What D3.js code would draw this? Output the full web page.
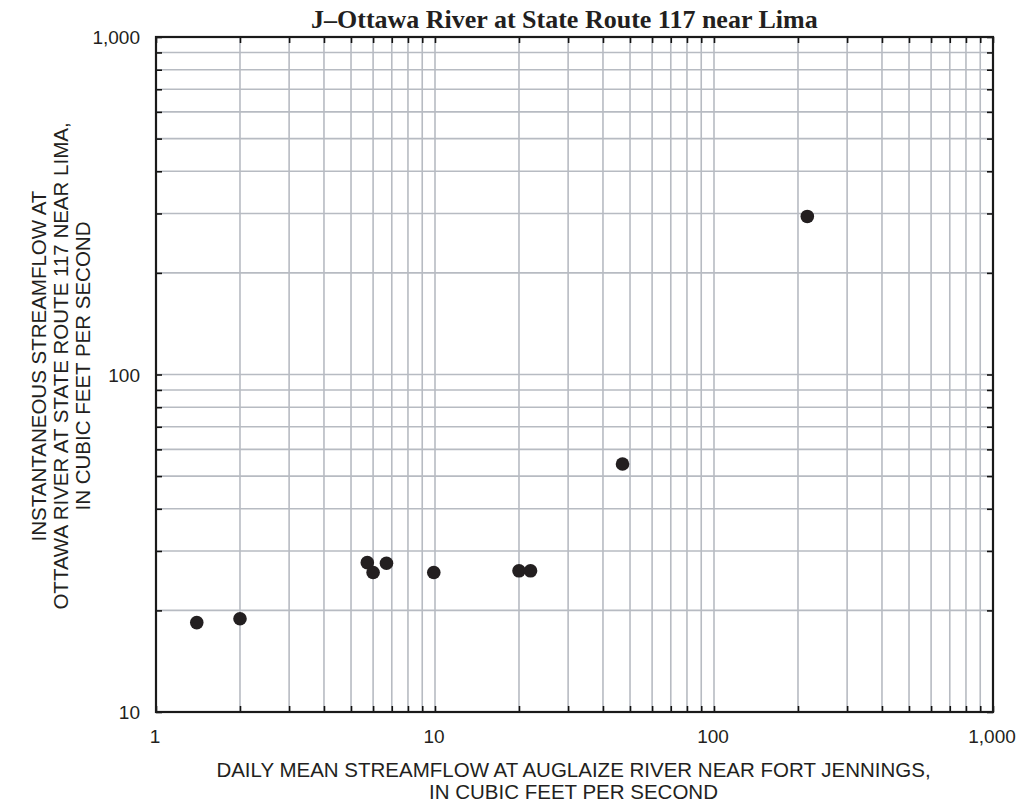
<!DOCTYPE html>
<html>
<head>
<meta charset="utf-8">
<script src="https://cdn.jsdelivr.net/npm/d3@7"></script>
<style>
  html, body { margin: 0; padding: 0; background: #fff; }
  svg { display: block; }
</style>
</head>
<body>
<svg id="chart" width="1020" height="808"></svg>
<script>
// Paired streamflow observations (cubic feet per second)
const augFortJennings = [1.4, 2.0, 5.72, 6.0, 6.7, 9.9, 20.0, 22.0, 47.0, 216];
const ottawaLima      = [18.4, 18.9, 27.7, 25.9, 27.6, 25.9, 26.2, 26.2, 54.3, 294];

const xLabelTicks = [1, 10, 100, 1000];
const yLabelTicks = [10, 100, 1000];

const titleText = "J\u2013Ottawa River at State Route 117 near Lima";
const xTitleLines = ["DAILY MEAN STREAMFLOW AT AUGLAIZE RIVER NEAR FORT JENNINGS,",
                     "IN CUBIC FEET PER SECOND"];
const yTitleLines = ["INSTANTANEOUS STREAMFLOW AT",
                     "OTTAWA RIVER AT STATE ROUTE 117 NEAR LIMA,",
                     "IN CUBIC FEET PER SECOND"];

const svg = d3.select("#chart");
const plotL = 156, plotR = 993, plotT = 37, plotB = 712;

const x = d3.scaleLog().domain([1, 1000]).range([plotL, plotR]);
const y = d3.scaleLog().domain([10, 1000]).range([plotB, plotT]);

// all 1-2-...-9 positions within each decade
function logTicks(lo, hi) {
  const out = [];
  for (let d = lo; d < hi; d *= 10)
    for (let k = 1; k < 10; k++) out.push(d * k);
  out.push(hi);
  return out;
}
const xAll = logTicks(1, 1000);
const yAll = logTicks(10, 1000);

const sans = "'Liberation Sans', Arial, Helvetica, sans-serif";
const gridColor = "#b7bbc2";
const ink = "#231f20";

// grid lines
const grid = svg.append("g");
grid.selectAll("line.vx").data(xAll.filter(v => v > 1 && v < 1000)).join("line")
  .attr("x1", d => x(d)).attr("x2", d => x(d))
  .attr("y1", plotT).attr("y2", plotB)
  .attr("stroke", gridColor).attr("stroke-width", 1.6);
grid.selectAll("line.hy").data(yAll.filter(v => v > 10 && v < 1000)).join("line")
  .attr("x1", plotL).attr("x2", plotR)
  .attr("y1", d => y(d)).attr("y2", d => y(d))
  .attr("stroke", gridColor).attr("stroke-width", 1.6);

// inward tick marks on all four sides
const tickLen = 6;
const axBottom = d3.axisTop(x).tickValues(xAll).tickSize(tickLen).tickFormat("");
const axTop = d3.axisBottom(x).tickValues(xAll).tickSize(tickLen).tickFormat("");
const axLeft = d3.axisRight(y).tickValues(yAll).tickSize(tickLen).tickFormat("");
const axRight = d3.axisLeft(y).tickValues(yAll).tickSize(tickLen).tickFormat("");

function styleAxis(g) {
  g.select(".domain").remove();
  g.selectAll(".tick line").attr("stroke", "#111").attr("stroke-width", 1.6);
}
svg.append("g").attr("transform", `translate(0,${plotB})`).call(axBottom).call(styleAxis);
svg.append("g").attr("transform", `translate(0,${plotT})`).call(axTop).call(styleAxis);
svg.append("g").attr("transform", `translate(${plotL},0)`).call(axLeft).call(styleAxis);
svg.append("g").attr("transform", `translate(${plotR},0)`).call(axRight).call(styleAxis);

// frame
svg.append("rect")
  .attr("x", plotL).attr("y", plotT)
  .attr("width", plotR - plotL).attr("height", plotB - plotT)
  .attr("fill", "none").attr("stroke", "#1a1a1a").attr("stroke-width", 2.2);

// tick labels
const fmt = d3.format(",");
svg.append("g").selectAll("text").data(xLabelTicks).join("text")
  .attr("x", d => x(d) - 1).attr("y", plotB + 31)
  .attr("text-anchor", "middle")
  .attr("font-family", sans).attr("font-size", 19).attr("fill", ink)
  .text(d => fmt(d));
svg.append("g").selectAll("text").data(yLabelTicks).join("text")
  .attr("x", plotL - 16).attr("y", d => y(d) + 7)
  .attr("text-anchor", "end")
  .attr("font-family", sans).attr("font-size", 19).attr("fill", ink)
  .text(d => fmt(d));

// points
svg.append("g").selectAll("circle").data(augFortJennings).join("circle")
  .attr("cx", d => x(d))
  .attr("cy", (d, i) => y(ottawaLima[i]))
  .attr("r", 6.8)
  .attr("fill", ink);

// title
svg.append("text")
  .attr("x", 311).attr("y", 28)
  .attr("text-anchor", "start")
  .attr("font-family", "'Liberation Serif', 'Times New Roman', serif")
  .attr("font-weight", "bold").attr("font-size", 26).attr("fill", ink)
  .text(titleText);

// x axis title
svg.append("g").selectAll("text").data(xTitleLines).join("text")
  .attr("x", (plotL + plotR) / 2 - 1)
  .attr("y", (d, i) => 777 + i * 22)
  .attr("text-anchor", "middle")
  .attr("font-family", sans).attr("font-size", 20.5).attr("fill", ink)
  .text(d => d);

// y axis title
svg.append("g").selectAll("text").data(yTitleLines).join("text")
  .attr("transform", (d, i) => `translate(${46 + i * 22},366) rotate(-90)`)
  .attr("text-anchor", "middle")
  .attr("font-family", sans).attr("font-size", 20.5).attr("fill", ink)
  .text(d => d);
</script>
</body>
</html>
